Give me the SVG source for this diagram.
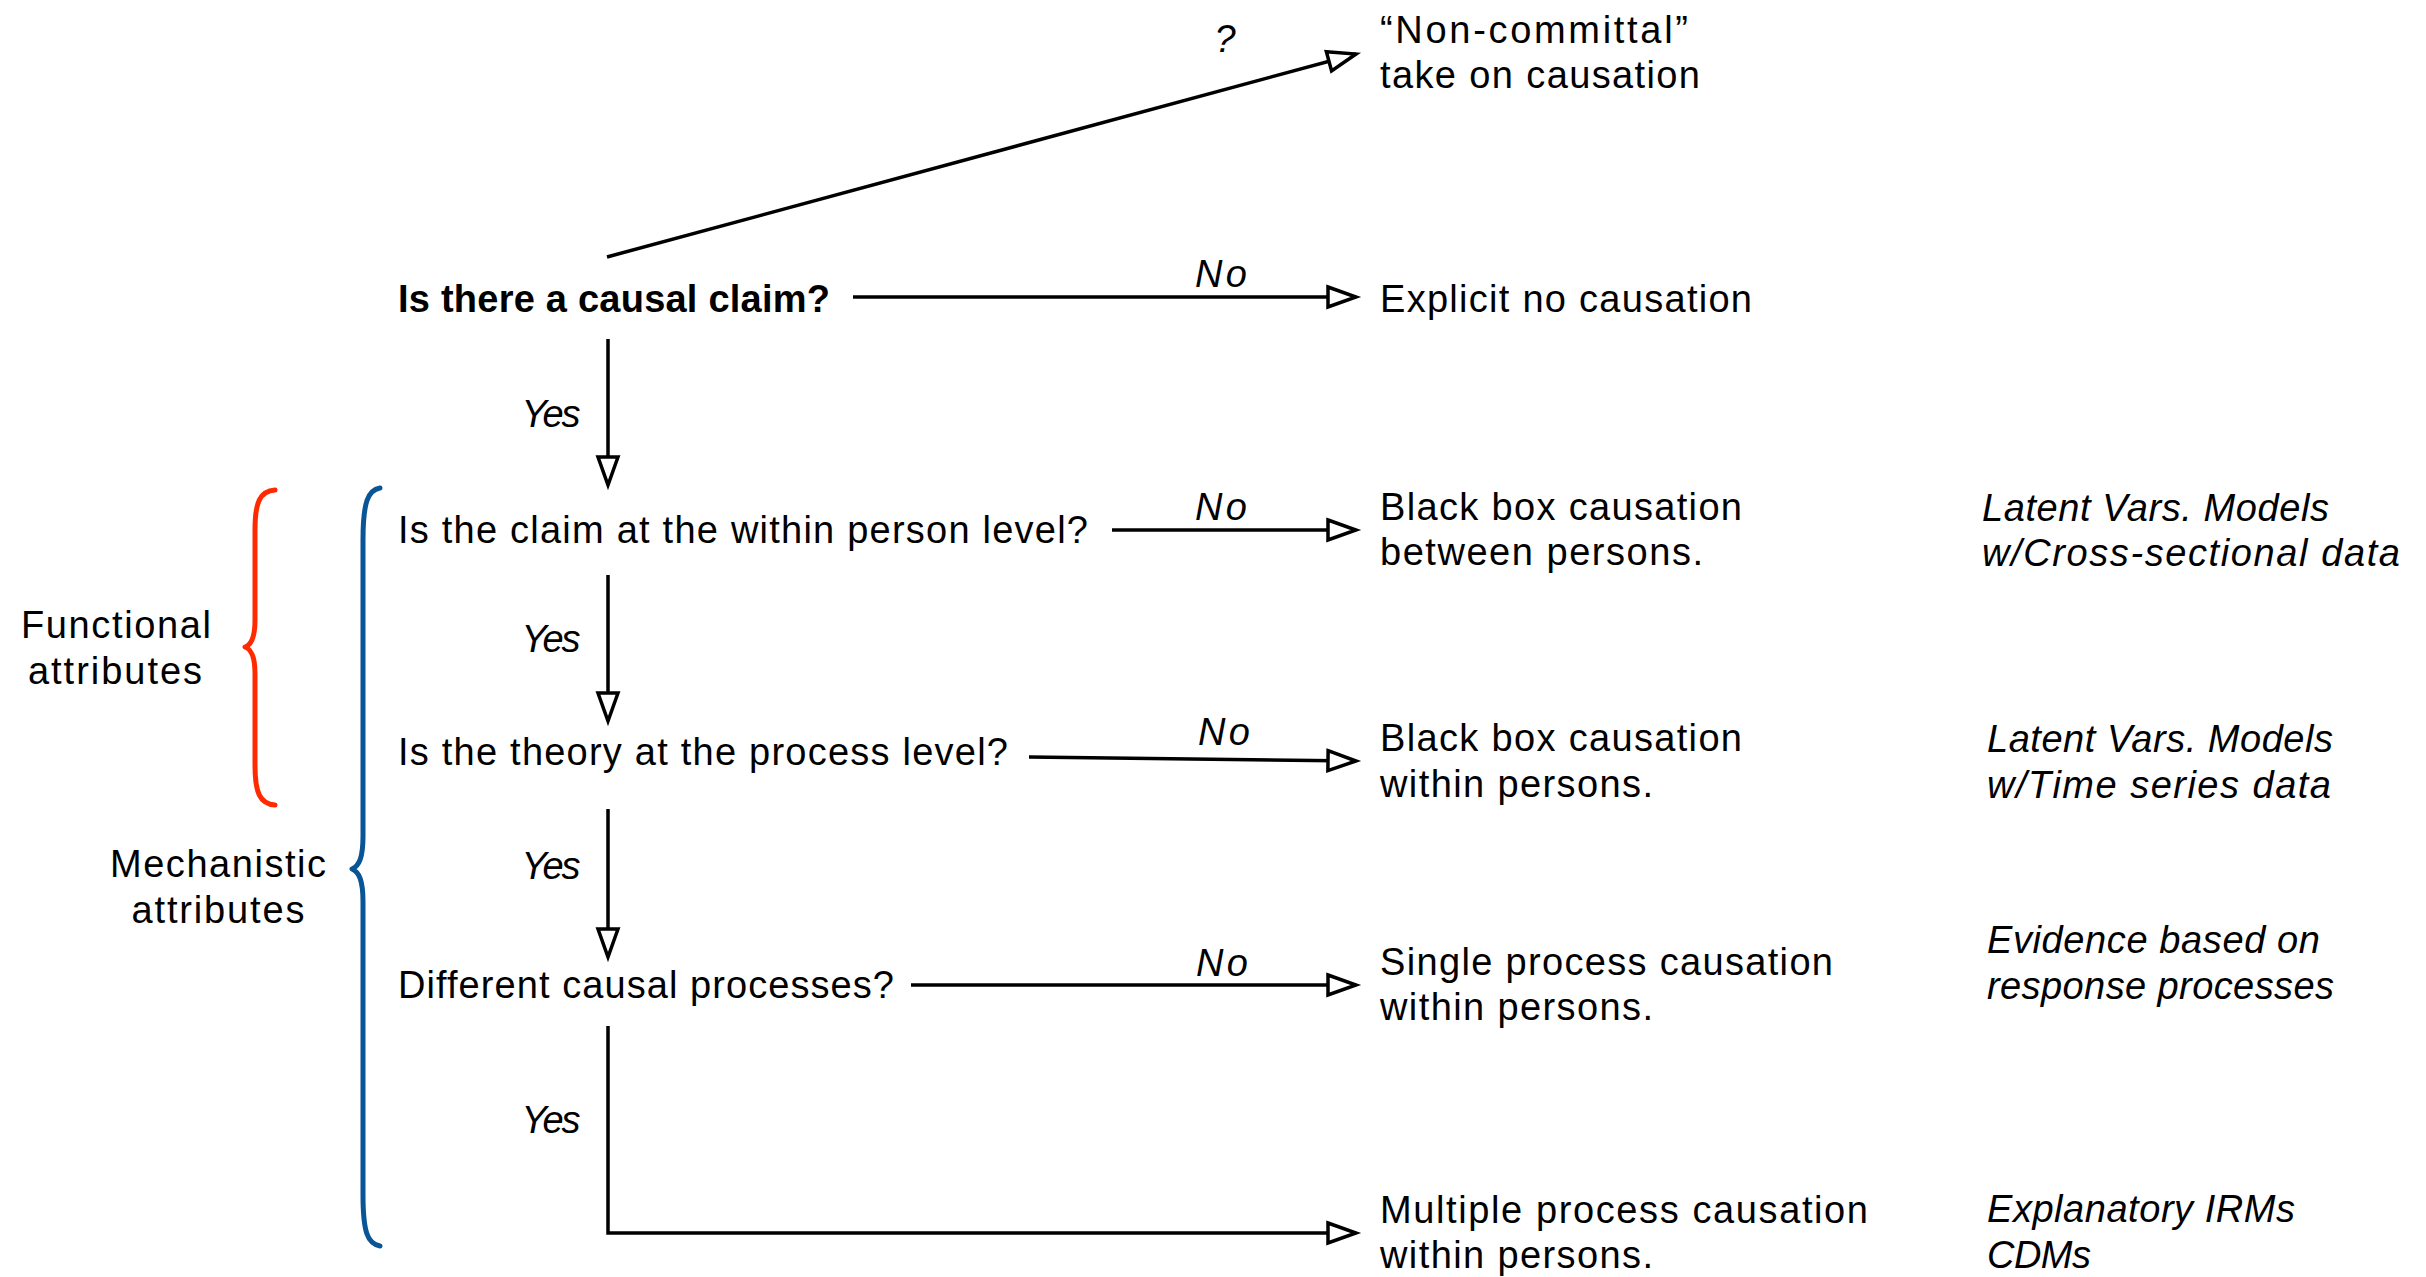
<svg xmlns="http://www.w3.org/2000/svg" width="2426" height="1277" viewBox="0 0 2426 1277">
  <style>
    text { font-family: "Liberation Sans", Arial, sans-serif; font-size: 38px; fill: #000; }
    .bold { font-weight: 700; }
    .it { font-style: italic; }
    .mid { text-anchor: middle; }
    .edge { fill: none; stroke: #000; stroke-width: 3.5; marker-end: url(#open-arrow); }
    .brace { fill: none; stroke-width: 5; stroke-linecap: round; stroke-linejoin: round; }
  </style>
  <defs>
    <marker id="open-arrow" viewBox="0 0 32 24" refX="30" refY="12" markerWidth="32" markerHeight="24"
            markerUnits="userSpaceOnUse" orient="auto" overflow="visible">
      <path d="M2,2 L30,12 L2,22 Z" fill="#fff" stroke="#000" stroke-width="3.5"/>
    </marker>
  </defs>

  <rect x="0" y="0" width="2426" height="1277" fill="#fff"/>

  <!-- connectors -->
  <g id="connectors">
    <path class="edge" d="M607,257 L1356,54"/>
    <path class="edge" d="M853,297 L1356,297"/>
    <path class="edge" d="M608,339 L608,485"/>
    <path class="edge" d="M1112,530 L1356,530"/>
    <path class="edge" d="M608,575 L608,721"/>
    <path class="edge" d="M1029,757 L1356,761"/>
    <path class="edge" d="M608,809 L608,957"/>
    <path class="edge" d="M911,985 L1356,985"/>
    <path class="edge" d="M608,1026 L608,1233 L1356,1233"/>
  </g>

  <!-- edge labels -->
  <g id="edge-labels">
    <text class="it mid" x="1225" y="52" font-size="34">?</text>
    <text class="it mid" x="1221" y="287" textLength="52">No</text>
    <text class="it mid" x="1221" y="520" textLength="52">No</text>
    <text class="it mid" x="1224" y="745" textLength="52">No</text>
    <text class="it mid" x="1222" y="976" textLength="52">No</text>
    <text class="it mid" x="551" y="427" textLength="59">Yes</text>
    <text class="it mid" x="551" y="652" textLength="59">Yes</text>
    <text class="it mid" x="551" y="879" textLength="59">Yes</text>
    <text class="it mid" x="551" y="1133" textLength="59">Yes</text>
  </g>

  <!-- decision nodes -->
  <g id="q-causal-claim">
    <text class="bold" x="398" y="312" textLength="432">Is there a causal claim?</text>
  </g>
  <g id="q-within-person">
    <text x="398" y="543" textLength="690">Is the claim at the within person level?</text>
  </g>
  <g id="q-process-level">
    <text x="398" y="765" textLength="610">Is the theory at the process level?</text>
  </g>
  <g id="q-different-processes">
    <text x="398" y="998" textLength="496">Different causal processes?</text>
  </g>

  <!-- outcome nodes -->
  <g id="o-noncommittal">
    <text x="1380" y="43" textLength="308">“Non-committal”</text>
    <text x="1380" y="88" textLength="320">take on causation</text>
  </g>
  <g id="o-explicit-no">
    <text x="1380" y="312" textLength="372">Explicit no causation</text>
  </g>
  <g id="o-blackbox-between">
    <text x="1380" y="520" textLength="362">Black box causation</text>
    <text x="1380" y="565" textLength="323">between persons.</text>
  </g>
  <g id="o-blackbox-within">
    <text x="1380" y="751" textLength="362">Black box causation</text>
    <text x="1380" y="797" textLength="273">within persons.</text>
  </g>
  <g id="o-single-process">
    <text x="1380" y="975" textLength="453">Single process causation</text>
    <text x="1380" y="1020" textLength="273">within persons.</text>
  </g>
  <g id="o-multiple-process">
    <text x="1380" y="1223" textLength="488">Multiple process causation</text>
    <text x="1380" y="1268" textLength="273">within persons.</text>
  </g>

  <!-- method notes -->
  <g id="m-cross-sectional">
    <text class="it" x="1982" y="521" textLength="347">Latent Vars. Models</text>
    <text class="it" x="1982" y="566" textLength="418">w/Cross-sectional data</text>
  </g>
  <g id="m-time-series">
    <text class="it" x="1987" y="752" textLength="346">Latent Vars. Models</text>
    <text class="it" x="1987" y="798" textLength="344">w/Time series data</text>
  </g>
  <g id="m-response-processes">
    <text class="it" x="1987" y="953" textLength="333">Evidence based on</text>
    <text class="it" x="1987" y="999" textLength="347">response processes</text>
  </g>
  <g id="m-irm-cdm">
    <text class="it" x="1987" y="1222" textLength="308">Explanatory IRMs</text>
    <text class="it" x="1987" y="1268" textLength="104">CDMs</text>
  </g>

  <!-- attribute brackets -->
  <g id="functional-attributes">
    <path class="brace" stroke="#ff2a00" d="M275,490 C260,491 255,502 255,530 L255,620 C255,638 251,645 245,647 C251,649 255,656 255,674 L255,765 C255,793 260,804 275,805"/>
    <text class="mid" x="116" y="638" textLength="190">Functional</text>
    <text class="mid" x="115" y="684" textLength="174">attributes</text>
  </g>
  <g id="mechanistic-attributes">
    <path class="brace" stroke="#0a5596" d="M380,488 C368,490 363,502 363,540 L363,836 C363,858 359,866 352,869 C359,872 363,880 363,902 L363,1195 C363,1233 368,1244 380,1246"/>
    <text class="mid" x="218" y="877" textLength="216">Mechanistic</text>
    <text class="mid" x="218" y="923" textLength="173">attributes</text>
  </g>
</svg>
